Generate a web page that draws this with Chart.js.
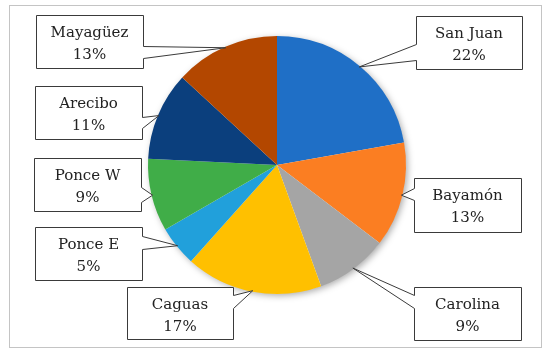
<!DOCTYPE html>
<html>
<head>
<meta charset="utf-8">
<script src="https://cdn.jsdelivr.net/npm/chart.js@4"></script>
<style>
  html, body { margin: 0; padding: 0; background: #fff; }
  #wrap { width: 550px; height: 353px; position: relative; }
</style>
</head>
<body>
<div id="wrap"><canvas id="myChart1"></canvas></div>
<script>
// chart data
const regions = ['San Juan', 'Bayamón', 'Carolina', 'Caguas', 'Ponce E', 'Ponce W', 'Arecibo', 'Mayagüez'];
const shares = [22, 13, 9, 17, 5, 9, 11, 13];
const sliceColors = ['#1F6FC6', '#FB7E22', '#A5A5A5', '#FFC000', '#21A0DB', '#40AD48', '#0B3F7D', '#B34700'];

// callout boxes: [x, y, w, h], side of the pointer, pointer base y range
const callouts = [
    { box: [416, 16, 106, 53], side: 'left', base: [44, 60] },
    { box: [414, 178, 107, 54], side: 'left', base: [188, 200] },
    { box: [414, 287, 107, 53], side: 'left', base: [295, 308] },
    { box: [127, 287, 106, 52], side: 'right', base: [295, 308] },
    { box: [35, 227, 107, 53], side: 'right', base: [236, 249] },
    { box: [34, 158, 107, 53], side: 'right', base: [187, 202] },
    { box: [35, 86, 107, 53], side: 'right', base: [117, 128] },
    { box: [36, 15, 107, 53], side: 'right', base: [46, 58] }
];

const total = shares.reduce((a, b) => a + b, 0);

const calloutPlugin = {
    id: 'callouts',
    beforeDatasetsDraw(chart) {
        const ctx = chart.ctx;
        const arc = chart.getDatasetMeta(0).data[0];
        // soft shadow under the pie
        ctx.save();
        ctx.shadowColor = 'rgba(0,0,0,0.35)';
        ctx.shadowBlur = 7;
        ctx.shadowOffsetX = 2;
        ctx.shadowOffsetY = 2;
        ctx.beginPath();
        ctx.arc(arc.x, arc.y, arc.outerRadius - 0.5, 0, Math.PI * 2);
        ctx.fillStyle = '#ffffff';
        ctx.fill();
        ctx.restore();
    },
    afterDraw(chart) {
        const ctx = chart.ctx;
        // outer frame
        ctx.save();
        ctx.strokeStyle = '#c4c4c4';
        ctx.lineWidth = 1;
        ctx.strokeRect(9.5, 5.5, 532, 342);
        ctx.restore();

        const meta = chart.getDatasetMeta(0);
        meta.data.forEach((el, i) => {
            const c = callouts[i];
            const mid = (el.startAngle + el.endAngle) / 2;
            const tx = el.x + Math.cos(mid) * (el.outerRadius - 1);
            const ty = el.y + Math.sin(mid) * (el.outerRadius - 1);
            const [x, y, w, h] = c.box;
            const x0 = x + 0.5, y0 = y + 0.5, x1 = x + w + 0.5, y1 = y + h + 0.5;
            ctx.save();
            ctx.beginPath();
            ctx.moveTo(x0, y0);
            ctx.lineTo(x1, y0);
            if (c.side === 'right') {
                ctx.lineTo(x1, c.base[0] + 0.5);
                ctx.lineTo(tx, ty);
                ctx.lineTo(x1, c.base[1] + 0.5);
            }
            ctx.lineTo(x1, y1);
            ctx.lineTo(x0, y1);
            if (c.side === 'left') {
                ctx.lineTo(x0, c.base[1] + 0.5);
                ctx.lineTo(tx, ty);
                ctx.lineTo(x0, c.base[0] + 0.5);
            }
            ctx.closePath();
            ctx.fillStyle = '#ffffff';
            ctx.fill();
            ctx.strokeStyle = '#3a3a3a';
            ctx.lineWidth = 1;
            ctx.stroke();

            ctx.fillStyle = '#222';
            ctx.font = '15px "DejaVu Serif", "Liberation Serif", serif';
            ctx.textAlign = 'center';
            ctx.textBaseline = 'alphabetic';
            const cx = x + w / 2;
            ctx.fillText(regions[i], cx, y + 22);
            ctx.fillText(Math.round(shares[i] / total * 100) + '%', cx, y + 44);
            ctx.restore();
        });
    }
};

const canvas = document.getElementById('myChart1');
const ctx1 = canvas.getContext('2d');

new Chart(ctx1, {
    type: 'pie',
    data: {
        labels: regions,
        datasets: [{
            data: shares,
            backgroundColor: sliceColors,
            borderWidth: 0
        }]
    },
    options: {
        responsive: true,
        maintainAspectRatio: false,
        animation: false,
        layout: {
            padding: { left: 148, right: 144, top: 36, bottom: 59 }
        },
        plugins: {
            legend: { display: false },
            tooltip: { enabled: false }
        }
    },
    plugins: [calloutPlugin]
});
</script>
</body>
</html>
